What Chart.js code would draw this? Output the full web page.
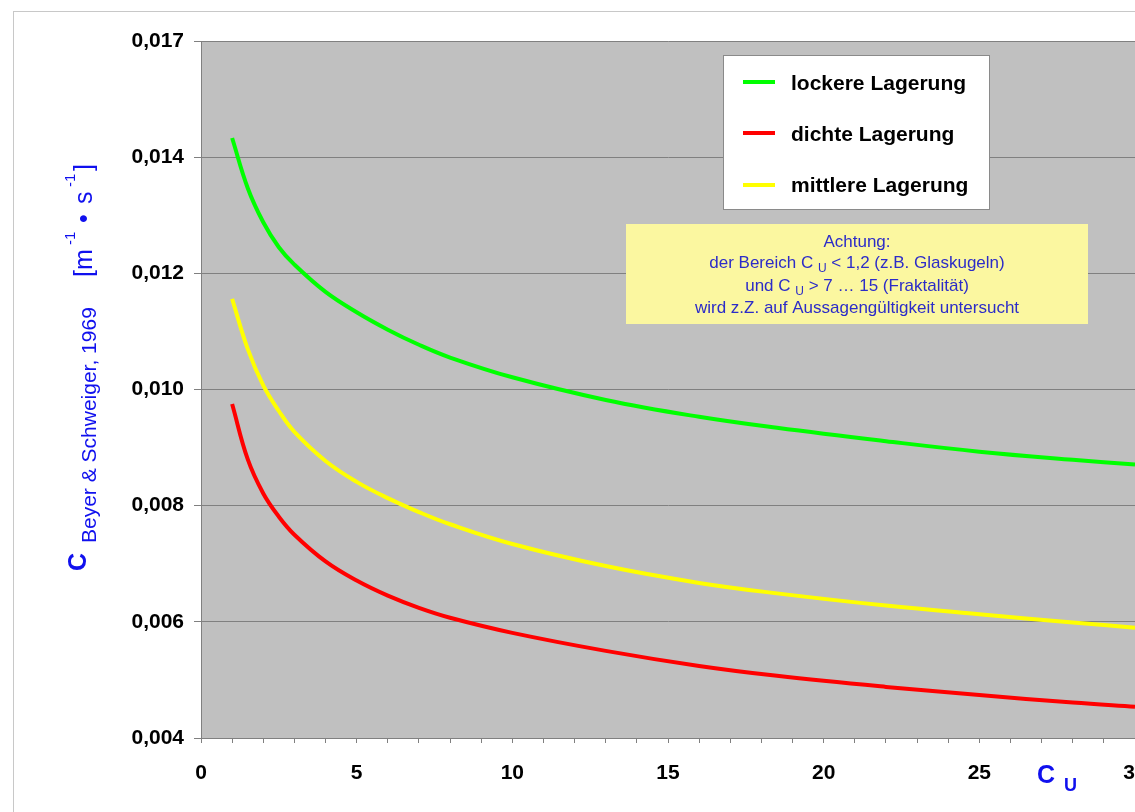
<!DOCTYPE html>
<html lang="de">

<head>
    <meta charset="UTF-8">
    <title>C Beyer &amp; Schweiger, 1969</title>
    <style>
        html, body { margin: 0; padding: 0; overflow: hidden; background: #fff; }
        canvas { display: block; }
    </style>
</head>

<body>
    <canvas id="myChart" width="1200" height="812"></canvas>
    <script src="https://cdn.jsdelivr.net/npm/chart.js"></script>
    <script>
        // Ungleichförmigkeitszahl C_U
        const cuValues = [1, 1.5, 2, 2.5, 3, 4, 5, 6, 7, 8, 10, 13, 16, 18.5, 22, 25, 28, 30];
        const lockere = [0.01433, 0.01347, 0.01288, 0.01245, 0.01215, 0.01168, 0.01133, 0.01103, 0.01077, 0.01055,
            0.01021, 0.00982, 0.00953, 0.00934, 0.00911, 0.00893, 0.00879, 0.00871];
        const dichte = [0.00975, 0.0088, 0.00821, 0.00781, 0.0075, 0.00704, 0.00671, 0.00645, 0.00624, 0.00607,
            0.00581, 0.0055, 0.00524, 0.00507, 0.00488, 0.00474, 0.00461, 0.00454];
        const mittlere = [0.01156, 0.0107, 0.01007, 0.00963, 0.00927, 0.00877, 0.00841, 0.00813, 0.00789, 0.00768,
            0.00734, 0.00696, 0.00667, 0.00649, 0.00628, 0.00613, 0.00599, 0.0059];

        const seriesLabels = ['lockere Lagerung', 'dichte Lagerung', 'mittlere Lagerung'];
        const seriesColors = ['#00ff00', '#ff0000', '#ffff00'];
        const yTickLabels = ['0,004', '0,006', '0,008', '0,010', '0,012', '0,014', '0,017'];
        const xTickLabels = ['0', '5', '10', '15', '20', '25', '30'];

        const noteLines = [
            [['Achtung:']],
            [['der Bereich C '], ['U', true], [' < 1,2 (z.B. Glaskugeln)']],
            [['und C '], ['U', true], [' > 7 … 15 (Fraktalität)']],
            [['wird z.Z. auf Aussagengültigkeit untersucht']]
        ];

        const FONT = '"Liberation Sans", Arial, sans-serif';
        const BLUE = '#1010ee';

        const toPoints = (arr) => arr.map((v, i) => ({ x: cuValues[i], y: v }));

        const decor = {
            id: 'decor',
            beforeDraw(chart) {
                const ctx = chart.ctx;
                const a = chart.chartArea;
                ctx.save();
                ctx.fillStyle = '#fff';
                ctx.fillRect(0, 0, chart.width, chart.height);
                ctx.strokeStyle = '#c8c8c8';
                ctx.lineWidth = 1;
                ctx.strokeRect(13.5, 11.5, 1400, 1000);
                ctx.fillStyle = '#c0c0c0';
                ctx.fillRect(a.left, a.top, a.right - a.left, a.bottom - a.top);
                ctx.restore();
            },
            afterDraw(chart) {
                const ctx = chart.ctx;
                ctx.save();

                // legend box
                ctx.fillStyle = '#fff';
                ctx.fillRect(723.5, 55.5, 266, 154);
                ctx.strokeStyle = '#8a8a8a';
                ctx.lineWidth = 1;
                ctx.strokeRect(723.5, 55.5, 266, 154);
                const rowLine = [82, 133, 185];
                const rowBase = [90, 141, 192];
                chart.data.datasets.forEach((ds, i) => {
                    ctx.strokeStyle = ds.borderColor;
                    ctx.lineWidth = 4;
                    ctx.beginPath();
                    ctx.moveTo(743, rowLine[i]);
                    ctx.lineTo(775, rowLine[i]);
                    ctx.stroke();
                    ctx.fillStyle = '#000';
                    ctx.font = 'bold 21px ' + FONT;
                    ctx.textAlign = 'left';
                    ctx.textBaseline = 'alphabetic';
                    ctx.fillText(ds.label, 791, rowBase[i]);
                });

                // note box
                ctx.fillStyle = '#fbf7a0';
                ctx.fillRect(626, 224, 462, 100);
                const noteBase = [247, 268, 291, 313];
                noteLines.forEach((runs, li) => {
                    let total = 0;
                    runs.forEach(r => {
                        ctx.font = (r[1] ? '12px ' : '17px ') + FONT;
                        total += ctx.measureText(r[0]).width;
                    });
                    let x = 857 - total / 2;
                    runs.forEach(r => {
                        ctx.font = (r[1] ? '12px ' : '17px ') + FONT;
                        ctx.fillStyle = '#2c2cc8';
                        ctx.textAlign = 'left';
                        ctx.fillText(r[0], x, noteBase[li] + (r[1] ? 4 : 0));
                        x += ctx.measureText(r[0]).width;
                    });
                });

                // x axis title
                ctx.fillStyle = BLUE;
                ctx.font = 'bold 25px ' + FONT;
                ctx.fillText('C', 1037, 783);
                ctx.font = 'bold 18px ' + FONT;
                ctx.fillText('U', 1064, 791);

                // y axis title
                ctx.translate(86, 572);
                ctx.rotate(-Math.PI / 2);
                ctx.font = 'bold 25px ' + FONT;
                ctx.fillText('C', 1, 0);
                ctx.font = '21px ' + FONT;
                ctx.fillText('Beyer & Schweiger, 1969', 29, 10);
                ctx.font = '25px ' + FONT;
                ctx.fillText('[m', 295, 6);
                ctx.fillText('•', 349, 6);
                ctx.fillText('s', 368, 6);
                ctx.fillText(']', 401, 6);
                ctx.font = '15px ' + FONT;
                ctx.fillText('-1', 327, -11);
                ctx.fillText('-1', 385, -11);

                ctx.restore();
            }
        };

        const data = {
            datasets: [lockere, dichte, mittlere].map((arr, i) => ({
                label: seriesLabels[i],
                data: toPoints(arr),
                borderColor: seriesColors[i],
                backgroundColor: seriesColors[i],
                borderWidth: 4,
                pointRadius: 0,
                tension: 0.4,
                fill: false
            }))
        };

        const config = {
            type: 'line',
            data: data,
            options: {
                responsive: false,
                animation: false,
                devicePixelRatio: 1,
                layout: {
                    padding: { top: 41, right: 65, left: 0, bottom: 0 }
                },
                plugins: {
                    legend: { display: false },
                    tooltip: { enabled: false }
                },
                scales: {
                    x: {
                        type: 'linear',
                        min: 0,
                        max: 30,
                        afterFit: (s) => { s.height = 74; },
                        grid: {
                            drawOnChartArea: false,
                            color: '#808080',
                            tickLength: 5
                        },
                        border: { color: '#808080', width: 1 },
                        ticks: {
                            stepSize: 1,
                            autoSkip: false,
                            maxRotation: 0,
                            padding: 18,
                            color: '#000',
                            font: { family: FONT, size: 21, weight: 'bold' },
                            callback: (v) => v % 5 === 0 ? xTickLabels[v / 5] : ''
                        }
                    },
                    y: {
                        min: 0.004,
                        max: 0.016,
                        afterFit: (s) => { s.width = 201; },
                        grid: {
                            color: '#808080',
                            tickLength: 7
                        },
                        border: { color: '#808080', width: 1 },
                        ticks: {
                            stepSize: 0.002,
                            padding: 10,
                            color: '#000',
                            font: { family: FONT, size: 21, weight: 'bold' },
                            callback: (v, i) => yTickLabels[i]
                        }
                    }
                }
            },
            plugins: [decor]
        };

        const myChart = new Chart(document.getElementById('myChart'), config);
    </script>
</body>

</html>
